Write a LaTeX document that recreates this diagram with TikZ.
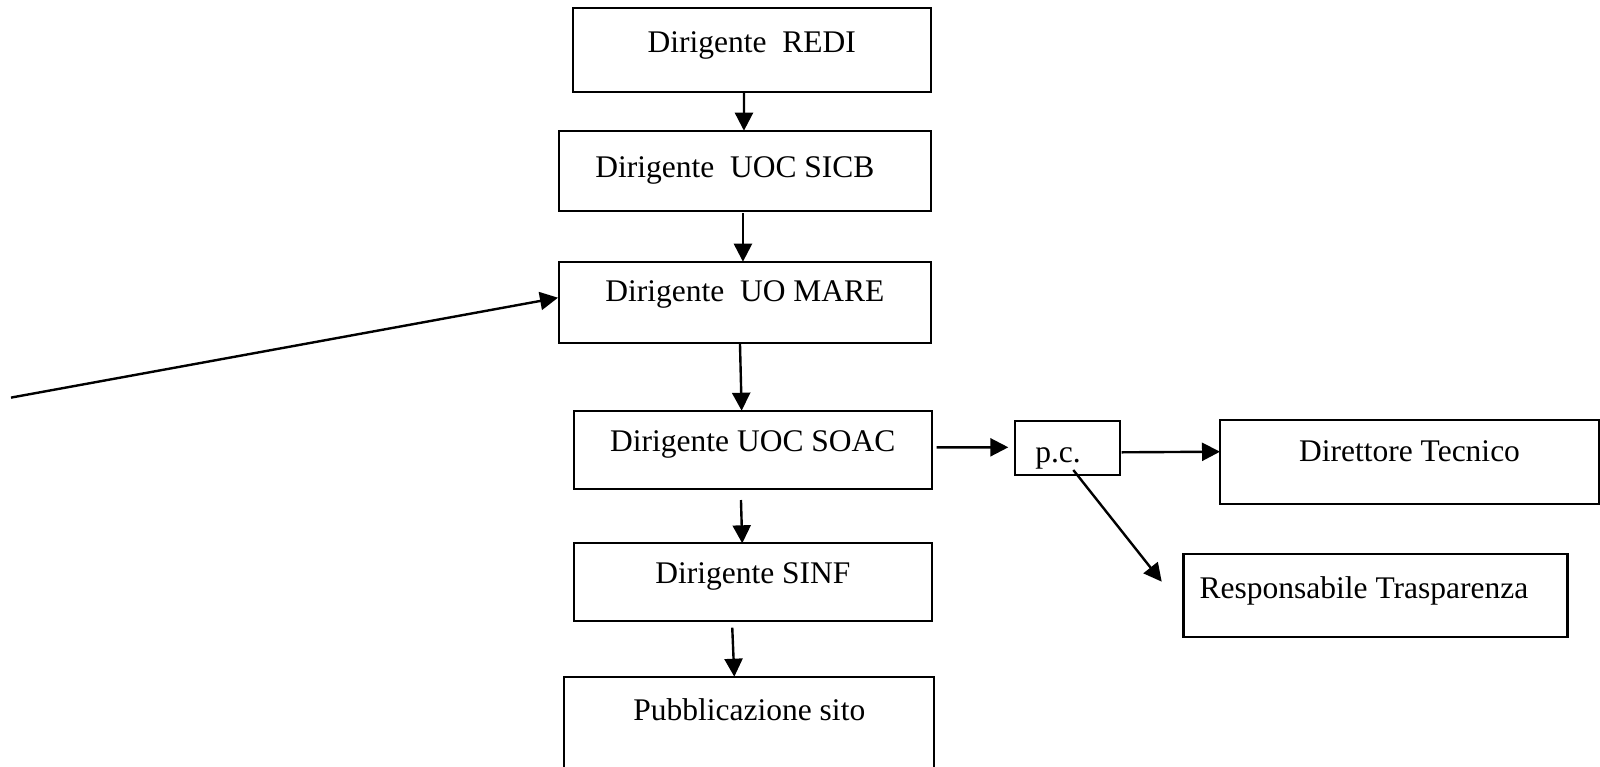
\documentclass[tikz,border=0pt]{standalone}
\usepackage{fontspec}
\setmainfont{Liberation Serif}
\usetikzlibrary{arrows.meta,calc}
\tikzset{
  box/.style={draw, line width=2.2pt, anchor=north west, inner xsep=0pt, inner ysep=0pt,
    font=\fontsize{31.5}{34}\selectfont, outer sep=0pt},
  arr/.style={line width=2.4pt, -{Triangle[length=18pt,width=18pt]}}
}
\begin{document}
\begin{tikzpicture}[x=1pt,y=-1pt]
\clip (0,0) rectangle (1600,766);
\node[box, minimum width=358pt, text height=44pt, text depth=39.4pt] (redi) at (572.7,8.3) {Dirigente~ REDI};
\node[box, minimum width=371.7pt, text height=46.6pt, text depth=33.7pt] (sicb) at (559,130.7) {Dirigente~ UOC SICB\hspace*{20pt}};
\node[box, minimum width=371.7pt, text height=40pt, text depth=41pt] (mare) at (559,261.7) {Dirigente~ UO MARE};
\node[box, minimum width=357.7pt, text height=40.5pt, text depth=37.8pt] (soac) at (574,410.7) {Dirigente UOC SOAC};
\node[box, minimum width=357.7pt, text height=40pt, text depth=37.4pt] (sinf) at (574,543.3) {Dirigente SINF};
\node[box, minimum width=370pt, text height=43.3pt, text depth=80pt] (pubb) at (564.3,676.7) {Pubblicazione sito};
\node[box, minimum width=105pt, text height=41.3pt, text depth=12.7pt] (pc) at (1015,421) {p.c.\hspace*{19pt}};
\node[box, minimum width=379pt, text height=41pt, text depth=43pt] (dir) at (1220,420) {Direttore Tecnico};
\node[box, minimum width=384pt, text height=44pt, text depth=38.7pt] (resp) at (1183.5,554) {Responsabile Trasparenza\hspace*{23pt}};
\coordinate (src) at (11,397.6);
\coordinate (rtip) at ($(resp.west)+(-21.8,-13.7)$);
\draw[arr] ($(redi.south)+(-7.7,0)$) -- ($(sicb.north)+(-0.9,0)$);
\draw[arr] ($(sicb.south)+(-1.9,2)$) -- ($(mare.north)+(-1.9,0)$);
\draw[arr] ($(mare.south)+(-4.9,0)$) -- ($(soac.north)+(-11.2,0)$);
\draw[arr] ($(soac.south)+(-11.9,11)$) -- ($(sinf.north)+(-10.6,0)$);
\draw[arr] ($(sinf.south)+(-20.6,7)$) -- ($(pubb.north)+(-15,0)$);
\draw[arr] ($(soac.east)+(5,-2.5)$) -- ($(pc.west)+(-6.7,-0.7)$);
\draw[arr] ($(pc.east)+(1.7,4.3)$) -- ($(dir.west)+(0,-10.3)$);
\draw[arr] ($(pc.center)+(5.8,22)$) -- (rtip);
\draw[arr] (src) -- ($(mare.west)+(-1,-4.5)$);
\end{tikzpicture}
\end{document}
